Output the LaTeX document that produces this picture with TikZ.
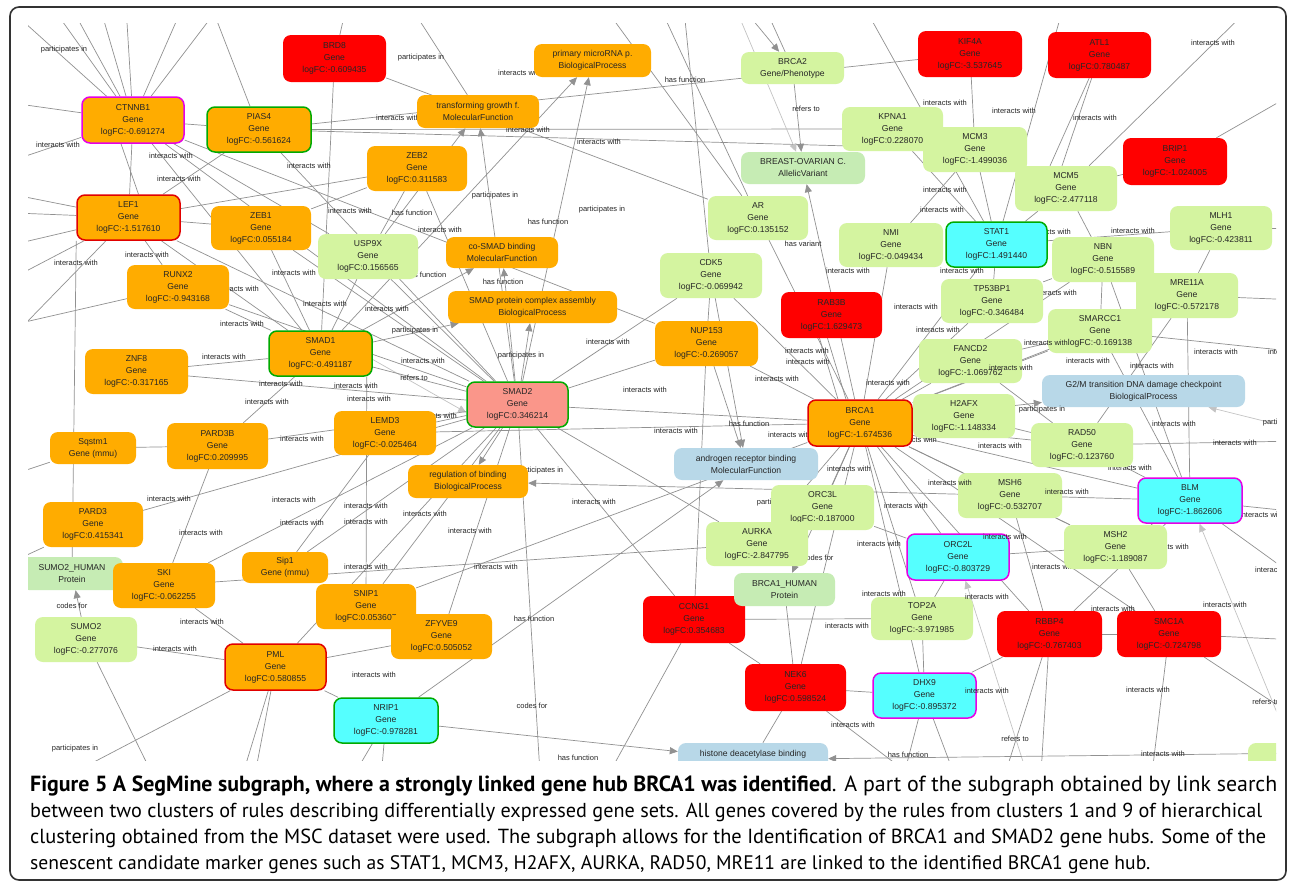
\documentclass[tikz,border=0pt]{standalone}
\usepackage{fontspec}
\usetikzlibrary{arrows.meta}
\newfontfamily\nf{Liberation Sans}
\newfontfamily\cf{PT Sans}
\definecolor{cor}{RGB}{255,172,0}
\definecolor{cred}{RGB}{255,0,0}
\definecolor{clg}{RGB}{212,244,160}
\definecolor{cpg}{RGB}{198,236,180}
\definecolor{cbl}{RGB}{184,216,232}
\definecolor{ccy}{RGB}{85,255,255}
\definecolor{csa}{RGB}{250,150,138}
\definecolor{bmag}{RGB}{230,0,230}
\definecolor{bgrn}{RGB}{0,170,0}
\definecolor{bred}{RGB}{225,0,0}
\definecolor{ecol}{RGB}{145,145,145}
\definecolor{elight}{RGB}{195,195,195}
\pgfdeclarelayer{paper}\pgfdeclarelayer{bg}\pgfdeclarelayer{lb}\pgfdeclarelayer{top}
\pgfsetlayers{paper,bg,lb,main,top}
\tikzset{
  gn/.style={rounded corners=8pt,inner sep=0pt,align=center,text=black!85,
    font=\nf\fontsize{8.6}{12}\selectfont},
  bmagenta/.style={draw=bmag,line width=1.5pt},
  bgreen/.style={draw=bgrn,line width=1.5pt},
  bredd/.style={draw=bred,line width=1.5pt},
  e/.style={draw=ecol,line width=0.7pt},
  ea/.style={e,-{Triangle[length=8pt,width=7pt]}},
  eb/.style={draw=elight,line width=0.7pt,-{Triangle[length=8pt,width=7pt]}},
  el/.style={inner sep=0pt,text=black!85,font=\nf\fontsize{7.5}{9}\selectfont},
}
\newcommand\gnd[7]{\node[gn,#6,minimum width={(#4-#2)*1pt},minimum height={(#5-#3)*1pt}] (#1) at ({(#2+#4)/2},{(#3+#5)/2}) {#7};}
\newcommand\lbl[4]{\node[el] (#1) at (#2,#3) {#4};}
\newcommand\iw{interacts with}
\newcommand\pin{participates in}
\newcommand\hfn{has function}
\newcommand\cnx[2]{\draw[e] (#1) -- (#2);}
\newcommand\cna[2]{\draw[ea] (#1) -- (#2);}
\newcommand\cnl[2]{\draw[eb] (#1) -- (#2);}
\newcommand\gclip{\clip (28,23) rectangle (1276,760);}
\begin{document}
\begin{tikzpicture}[x=1pt,y=-1pt]
\path[use as bounding box] (0,0) rectangle (1290,884);
\begin{pgfonlayer}{paper}
\fill[white] (0,0) rectangle (1290,884);
\end{pgfonlayer}
% ---------------- nodes ----------------
\begin{scope}
\gclip
\gnd{brd8}{283}{35}{386}{82}{fill=cred}{BRD8\\Gene\\logFC:-0.609435}
\gnd{ctnnb1}{82}{97}{184}{143}{fill=cor,bmagenta}{CTNNB1\\Gene\\logFC:-0.691274}
\gnd{pias4}{207}{107}{311}{152}{fill=cor,bgreen}{PIAS4\\Gene\\logFC:-0.561624}
\gnd{lef1}{77}{195}{180}{240}{fill=cor,bredd}{LEF1\\Gene\\logFC:-1.517610}
\gnd{zeb1}{211}{206}{311}{250}{fill=cor}{ZEB1\\Gene\\logFC:0.055184}
\gnd{pmi}{534}{44}{651}{77}{fill=cor}{primary microRNA p.\\BiologicalProcess}
\gnd{tgf}{417}{95}{539}{128}{fill=cor}{transforming growth f.\\MolecularFunction}
\gnd{zeb2}{367}{146}{467}{191}{fill=cor}{ZEB2\\Gene\\logFC:0.311583}
\gnd{usp9x}{318}{234}{418}{279}{fill=clg}{USP9X\\Gene\\logFC:0.156565}
\gnd{cosmad}{446}{237}{558}{268}{fill=cor}{co-SMAD binding\\MolecularFunction}
\gnd{spca}{448}{291}{617}{323}{fill=cor}{SMAD protein complex assembly\\BiologicalProcess}
\gnd{smad1}{269}{331}{372}{376}{fill=cor,bgreen}{SMAD1\\Gene\\logFC:-0.491187}
\gnd{runx2}{127}{265}{229}{309}{fill=cor}{RUNX2\\Gene\\logFC:-0.943168}
\gnd{znf8}{85}{349}{188}{394}{fill=cor}{ZNF8\\Gene\\logFC:-0.317165}
\gnd{smad2}{467}{382}{568}{427}{fill=csa,bgreen}{SMAD2\\Gene\\logFC:0.346214}
\gnd{lemd3}{334}{411}{436}{455}{fill=cor}{LEMD3\\Gene\\logFC:-0.025464}
\gnd{sqstm1}{50}{432}{136}{464}{fill=cor}{Sqstm1\\Gene (mmu)}
\gnd{pard3b}{167}{423}{268}{469}{fill=cor}{PARD3B\\Gene\\logFC:0.209995}
\gnd{regb}{408}{465}{528}{498}{fill=cor}{regulation of binding\\BiologicalProcess}
\gnd{pard3}{43}{502}{143}{547}{fill=cor}{PARD3\\Gene\\logFC:0.415341}
\gnd{sumo2h}{21}{557}{123}{590}{fill=cpg}{SUMO2\_HUMAN\\Protein}
\gnd{ski}{113}{563}{215}{608}{fill=cor}{SKI\\Gene\\logFC:-0.062255}
\gnd{sip1}{242}{552}{328}{583}{fill=cor}{Sip1\\Gene (mmu)}
\gnd{sumo2}{35}{617}{137}{662}{fill=clg}{SUMO2\\Gene\\logFC:-0.277076}
\gnd{pml}{225}{644}{326}{690}{fill=cor,bredd}{PML\\Gene\\logFC:0.580855}
\gnd{snip1}{316}{584}{416}{629}{fill=cor}{SNIP1\\Gene\\logFC:0.053607}
\gnd{zfyve9}{391}{614}{492}{659}{fill=cor}{ZFYVE9\\Gene\\logFC:0.505052}
\gnd{nrip1}{334}{698}{438}{743}{fill=ccy,bgreen}{NRIP1\\Gene\\logFC:-0.978281}
\gnd{brca2}{741}{52}{844}{84}{fill=clg}{BRCA2\\Gene/Phenotype}
\gnd{boc}{741}{152}{865}{184}{fill=cpg}{BREAST-OVARIAN C.\\AllelicVariant}
\gnd{kpna1}{842}{107}{943}{151}{fill=clg}{KPNA1\\Gene\\logFC:0.228070}
\gnd{ar}{708}{196}{808}{240}{fill=clg}{AR\\Gene\\logFC:0.135152}
\gnd{nmi}{839}{223}{943}{267}{fill=clg}{NMI\\Gene\\logFC:-0.049434}
\gnd{cdk5}{660}{253}{762}{298}{fill=clg}{CDK5\\Gene\\logFC:-0.069942}
\gnd{nup153}{655}{321}{758}{366}{fill=cor}{NUP153\\Gene\\logFC:-0.269057}
\gnd{rab3b}{781}{292}{882}{338}{fill=cred}{RAB3B\\Gene\\logFC:1.629473}
\gnd{brca1}{808}{400}{912}{446}{fill=cor,bredd}{BRCA1\\Gene\\logFC:-1.674536}
\gnd{arb}{674}{448}{818}{480}{fill=cbl}{androgen receptor binding\\MolecularFunction}
\gnd{orc3l}{771}{485}{874}{530}{fill=clg}{ORC3L\\Gene\\logFC:-0.187000}
\gnd{aurka}{706}{522}{808}{566}{fill=clg}{AURKA\\Gene\\logFC:-2.847795}
\gnd{ccng1}{643}{596}{745}{643}{fill=cred}{CCNG1\\Gene\\logFC:0.354683}
\gnd{brca1h}{734}{573}{835}{606}{fill=cpg}{BRCA1\_HUMAN\\Protein}
\gnd{nek6}{745}{664}{846}{711}{fill=cred}{NEK6\\Gene\\logFC:0.598524}
\gnd{hdb}{678}{743}{828}{776}{fill=cbl}{histone deacetylase binding\\MolecularFunction}
\gnd{top2a}{871}{597}{973}{640}{fill=clg}{TOP2A\\Gene\\logFC:-3.971985}
\gnd{dhx9}{873}{673}{976}{718}{fill=ccy,bmagenta}{DHX9\\Gene\\logFC:-0.895372}
\gnd{orc2l}{907}{534}{1009}{580}{fill=ccy,bmagenta}{ORC2L\\Gene\\logFC:-0.803729}
\gnd{kif4a}{918}{31}{1022}{77}{fill=cred}{KIF4A\\Gene\\logFC:-3.537645}
\gnd{atl1}{1048}{32}{1151}{78}{fill=cred}{ATL1\\Gene\\logFC:0.780487}
\gnd{mcm3}{923}{127}{1027}{172}{fill=clg}{MCM3\\Gene\\logFC:-1.499036}
\gnd{mcm5}{1015}{166}{1117}{211}{fill=clg}{MCM5\\Gene\\logFC:-2.477118}
\gnd{brip1}{1123}{138}{1227}{185}{fill=cred}{BRIP1\\Gene\\logFC:-1.024005}
\gnd{stat1}{946}{222}{1047}{267}{fill=ccy,bgreen}{STAT1\\Gene\\logFC:1.491440}
\gnd{mlh1}{1170}{206}{1272}{250}{fill=clg}{MLH1\\Gene\\logFC:-0.423811}
\gnd{nbn}{1052}{237}{1154}{282}{fill=clg}{NBN\\Gene\\logFC:-0.515589}
\gnd{tp53bp1}{941}{279}{1043}{323}{fill=clg}{TP53BP1\\Gene\\logFC:-0.346484}
\gnd{mre11a}{1136}{273}{1238}{318}{fill=clg}{MRE11A\\Gene\\logFC:-0.572178}
\gnd{smarcc1}{1048}{309}{1152}{353}{fill=clg}{SMARCC1\\Gene\\logFC:-0.169138}
\gnd{fancd2}{919}{339}{1022}{383}{fill=clg}{FANCD2\\Gene\\logFC:-1.069762}
\gnd{g2m}{1042}{375}{1245}{407}{fill=cbl}{G2/M transition DNA damage checkpoint\\BiologicalProcess}
\gnd{h2afx}{913}{394}{1015}{438}{fill=clg}{H2AFX\\Gene\\logFC:-1.148334}
\gnd{rad50}{1031}{423}{1133}{467}{fill=clg}{RAD50\\Gene\\logFC:-0.123760}
\gnd{msh6}{958}{473}{1062}{518}{fill=clg}{MSH6\\Gene\\logFC:-0.532707}
\gnd{blm}{1138}{478}{1242}{523}{fill=ccy,bmagenta}{BLM\\Gene\\logFC:-1.862606}
\gnd{msh2}{1064}{525}{1167}{569}{fill=clg}{MSH2\\Gene\\logFC:-1.189087}
\gnd{rbbp4}{997}{611}{1102}{657}{fill=cred}{RBBP4\\Gene\\logFC:-0.767403}
\gnd{smc1a}{1117}{611}{1221}{657}{fill=cred}{SMC1A\\Gene\\logFC:-0.724798}
\gnd{pr1}{1248}{743}{1350}{790}{fill=clg}{}
\end{scope}
% ---------------- off-canvas ends ----------------
\foreach \n/\x/\y in {t1/40/-10,t2/62/-10,t3/95/-10,t4/125/-10,t5/190/-10,t6/232/-10,
  c0/5/5,w1/-10/100,w2/-10/168,w3/-10/190,w4/-10/212,w5/-10/250,w6/-10/290,w7/-10/360,
  t8/205/-10,t9/350/-10,t10/400/-10,w8/-10/330,w9/-10/482,w10/-10/572,
  b1/160/790,b2/50/785,b3/238/790,b4/252/790,b5/345/790,b6/380/790,b7/541/790,
  t11/728/-10,t12/757/-10,t13/682/-10,t14/652/-10,t15/592/-10,t16/855/-10,t17/1068/-10,
  t18/1268/-10,e1/1300/90,e2/1300/228,e3/1300/300,e4/1300/352,e5/1300/430,e6/1300/441,
  e7/1300/512,e8/1300/580,b8/1032/790,b9/900/790,b10/960/790,b11/930/790,b12/600/790,
  b13/1000/790,b14/1040/790,e9/1300/640,b15/1150/790,e10/1300/720,e11/1400/752}
  {\coordinate (\n) at (\x,\y);}
% ---------------- connectors ----------------
\begin{pgfonlayer}{bg}
\begin{scope}
\gclip
\cnx{ctnnb1}{t1}\cnx{ctnnb1}{t2}\cnx{ctnnb1}{t3}\cnx{ctnnb1}{t4}\cnx{ctnnb1}{t5}\cnx{ctnnb1}{t6}
\cnx{ctnnb1}{c0}\cnx{ctnnb1}{w1}\cnx{ctnnb1}{w2}
\cnx{ctnnb1}{lef1}\draw[e] ([xshift=-12pt]ctnnb1.south) -- ([xshift=10pt]lef1.north);
\cnx{ctnnb1}{pias4}\cnx{ctnnb1}{smad2}\cnx{ctnnb1}{smad1}\cnx{ctnnb1}{usp9x}\cnx{ctnnb1}{nup153}
\cnx{lef1}{w3}\cnx{lef1}{w4}\cnx{lef1}{w5}\cnx{lef1}{w6}\cnx{lef1}{w7}
\cnx{pias4}{lef1}\cnx{pias4}{smad2}\cnx{pias4}{t8}\cnx{pias4}{kpna1}\cnx{pias4}{kif4a}\cnx{pias4}{mcm3}
\cnx{lef1}{zeb2}\cnx{lef1}{smad2}\cnx{lef1}{runx2}\cnx{lef1}{smad1}
\cnx{brd8}{smad1}\cnx{brd8}{t9}\cnx{brd8}{ar}
\cnx{tgf}{t10}
\cnx{zeb1}{zeb2}\cnx{zeb1}{smad2}\cnx{zeb1}{lef1}\cnx{zeb1}{smad1}
\cna{usp9x}{tgf}\cnx{usp9x}{smad2}\cnx{usp9x}{smad1}
\cnx{zeb2}{smad2}\cnx{zeb2}{usp9x}
\cna{smad1}{pmi}\cna{smad2}{pmi}\cna{smad2}{tgf}\cna{smad2}{cosmad}\cna{smad2}{spca}
\cna{smad1}{cosmad}\cna{smad1}{spca}
\draw[eb] ([yshift=-6pt]smad1.east) -- ([yshift=-8pt]smad2.west);
\cnx{smad1}{smad2}
\cnx{runx2}{smad2}\cnx{runx2}{smad1}\cnx{runx2}{w8}
\cnx{znf8}{smad1}\cnx{znf8}{smad2}
\cnx{sqstm1}{pard3b}\cnx{sqstm1}{w9}
\cnx{sumo2h}{lef1.south west}
\cnx{pard3b}{smad1}\cnx{pard3b}{smad2}\cnx{pard3b}{ski}
\cnx{pard3}{smad2}\cnx{pard3}{w10}
\cna{sumo2}{sumo2h}
\cnx{ski}{smad2}\cnx{ski}{pml}
\cnx{sumo2}{pml}\cnx{sumo2}{b1}
\cnx{pml}{b2}\cnx{pml}{b3}\cnx{pml}{b4}\cnx{pml}{nrip1}\cnx{pml}{zfyve9}\cnx{pml}{smad2}
\cnx{sip1}{smad2}\cnx{lemd3}{sip1}\cnx{lemd3}{smad2}
\draw[e] (snip1) -- ([xshift=-6pt]smad1.south east);
\cnx{snip1}{smad2}\cnx{snip1}{brca1}
\cnx{zfyve9}{smad2}
\cna{nrip1}{arb}\cna{nrip1}{hdb}\cnx{nrip1}{b5}\cnx{nrip1}{b6}
\cnx{smad2}{b7}\cnx{smad2}{nup153}\cnx{smad2}{brca1}\cnx{smad2}{ccng1}\cnx{smad2}{cdk5}
\cna{smad2}{regb}\cna{msh6}{regb}
\cnx{lemd3}{brca1}\cnx{aurka}{ski}
\cna{t11}{brca2}\cnl{t11}{boc}\cnx{t12}{brca2}
\cna{brca2}{boc}\cna{brca1}{boc}
\cnx{cdk5}{t13}\cnx{ar}{t14}\cnx{ar}{t15}
\cnx{cdk5}{nup153}\cnx{cdk5}{brca1}\cna{cdk5}{arb}\cna{nup153}{arb}
\cnx{nup153}{brca1}\cnx{nup153}{ccng1}
\cnx{ar}{brca1}\cnx{nmi}{brca1}\cnx{nmi}{mcm3}\cnx{stat1}{kpna1}
\draw[e] ([xshift=-12pt]rab3b.south) -- ([xshift=-22pt]brca1.north);
\draw[e] ([xshift=-4pt]rab3b.south) -- ([xshift=-14pt]brca1.north);
\cnx{stat1}{brca1}\cnx{stat1}{mcm3}\cnx{stat1}{mcm5}\cnx{stat1}{t16}\cnx{stat1}{t17}\cnx{stat1}{mlh1}
\cnx{mcm3}{kif4a}
\draw[e] ([xshift=-16pt]mcm5.north) -- (atl1);
\draw[e] ([xshift=-4pt]mcm5.north) -- (atl1);
\cnx{mcm5}{t18}\cnx{brip1}{mcm5}\cnx{brip1}{e1}
\cnx{mlh1}{e2}\cnx{mlh1}{mre11a}
\cnx{nbn}{mcm5}\cnx{nbn}{brca1}\cnx{nbn}{tp53bp1}\cnx{nbn}{smarcc1}\cnx{nbn}{mre11a}
\cnx{tp53bp1}{brca1}\cnx{tp53bp1}{stat1}
\cnx{mre11a}{brca1}\cnx{mre11a}{blm}\cnx{mre11a}{e3}\cnx{mre11a}{rad50}
\cnx{smarcc1}{brca1}\cnx{smarcc1}{blm}\cnx{smarcc1}{e4}
\cnx{fancd2}{brca1}\cnx{fancd2}{smarcc1}\cnx{fancd2}{rad50}
\cnx{h2afx}{brca1}\cnx{h2afx}{rad50}
\cna{brca1}{g2m}\cnl{e5}{g2m}
\cnx{rad50}{brca1}\cnx{rad50}{blm}\cnx{rad50}{e6}
\cnx{msh6}{brca1}\cnx{msh6}{blm}\cnx{msh6}{msh2}\cnx{msh6}{rbbp4}
\cnx{blm}{brca1}\cnx{blm}{nbn}\cnx{blm}{e7}\cnx{blm}{e8}\cnl{pr1}{blm}
\cnx{msh2}{brca1}\cnx{msh2}{blm}\cnx{msh2}{smc1a}\cnx{msh2}{orc2l}
\cnx{orc2l}{brca1}\cnx{orc2l}{orc3l}\cnx{orc2l}{top2a}\cnl{b8}{orc2l}
\cnx{top2a}{brca1}\cnx{top2a}{ccng1}\cnx{top2a}{dhx9}
\cnx{dhx9}{nek6}\cnx{dhx9}{brca1}\cnx{dhx9}{b9}\cnx{dhx9}{b10}\cnx{dhx9}{rbbp4}
\cnx{nek6}{ccng1}\cnx{nek6}{brca1h}\cnx{nek6}{brca1}\cnx{nek6}{hdb}\cnx{nek6}{b11}
\cnx{ccng1}{b12}
\cna{brca1}{brca1h}
\cnx{aurka}{brca1}\cnx{aurka}{smad2}
\cnx{orc3l}{brca1}\cnx{orc3l}{aurka}
\cnx{rbbp4}{brca1}\cnx{rbbp4}{smc1a}\cnx{rbbp4}{b13}\cnx{rbbp4}{b14}\cnx{rbbp4}{blm}
\cnx{smc1a}{brca1}\cnx{smc1a}{e9}\cnx{smc1a}{b15}\cnx{smc1a}{e10}
\cna{e11}{hdb}
\end{scope}
\end{pgfonlayer}
% ---------------- connector labels ----------------
\begin{pgfonlayer}{lb}
\begin{scope}
\gclip
\lbl{l1}{64}{50}{\pin}\lbl{l2}{421}{58}{\pin}\lbl{l3}{495}{196}{\pin}\lbl{l4}{602}{210}{\pin}
\lbl{l5}{415}{331}{\pin}\lbl{l6}{521}{356}{\pin}\lbl{l7}{540}{471}{\pin}\lbl{l8}{780}{503}{\pin}
\lbl{l9}{75}{749}{\pin}\lbl{l10}{1286}{423}{\pin}
\lbl{l11}{58}{145}{\iw}\lbl{l12}{171}{156}{\iw}\lbl{l13}{179}{179}{\iw}\lbl{l14}{309}{166}{\iw}
\lbl{l15}{147}{255}{\iw}\lbl{l16}{350}{211}{\iw}\lbl{l17}{294}{273}{\iw}\lbl{l18}{237}{289}{\iw}
\lbl{l19}{325}{304}{\iw}\lbl{l20}{387}{309}{\iw}\lbl{l21}{242}{324}{\iw}\lbl{l22}{76}{263}{\iw}
\lbl{l23}{224}{357}{\iw}\lbl{l24}{423}{361}{\iw}\lbl{l25}{281}{384}{\iw}\lbl{l26}{356}{386}{\iw}
\lbl{l27}{369}{399}{\iw}\lbl{l28}{267}{402}{\iw}\lbl{l29}{435}{416}{\iw}\lbl{l30}{302}{439}{\iw}
\lbl{l31}{169}{499}{\iw}\lbl{l32}{294}{500}{\iw}\lbl{l33}{302}{523}{\iw}\lbl{l34}{201}{533}{\iw}
\lbl{l35}{366}{506}{\iw}\lbl{l36}{425}{514}{\iw}\lbl{l37}{366}{522}{\iw}\lbl{l38}{470}{531}{\iw}
\lbl{l39}{366}{567}{\iw}\lbl{l40}{496}{567}{\iw}\lbl{l41}{594}{502}{\iw}\lbl{l42}{202}{622}{\iw}
\lbl{l43}{175}{649}{\iw}\lbl{l44}{374}{675}{\iw}\lbl{l45}{520}{73}{\iw}\lbl{l46}{398}{118}{\iw}
\lbl{l47}{528}{130}{\iw}\lbl{l48}{599}{142}{\iw}\lbl{l49}{440}{230}{\iw}\lbl{l50}{608}{342}{\iw}
\lbl{l51}{645}{390}{\iw}\lbl{l52}{676}{431}{\iw}\lbl{l53}{777}{379}{\iw}\lbl{l54}{807}{351}{\iw}
\lbl{l55}{808}{362}{\iw}\lbl{l56}{848}{271}{\iw}\lbl{l57}{962}{271}{\iw}\lbl{l58}{916}{307}{\iw}
\lbl{l59}{938}{330}{\iw}\lbl{l60}{888}{383}{\iw}\lbl{l61}{790}{435}{\iw}\lbl{l62}{915}{440}{\iw}
\lbl{l63}{849}{469}{\iw}\lbl{l64}{906}{506}{\iw}\lbl{l65}{879}{544}{\iw}\lbl{l66}{884}{594}{\iw}
\lbl{l67}{847}{626}{\iw}\lbl{l68}{853}{725}{\iw}\lbl{l69}{945}{103}{\iw}\lbl{l70}{945}{190}{\iw}
\lbl{l71}{942}{210}{\iw}\lbl{l72}{1014}{111}{\iw}\lbl{l73}{1095}{118}{\iw}\lbl{l74}{1213}{43}{\iw}
\lbl{l75}{1049}{232}{\iw}\lbl{l76}{1133}{231}{\iw}\lbl{l77}{1055}{293}{\iw}\lbl{l78}{1088}{361}{\iw}
\lbl{l79}{1152}{366}{\iw}\lbl{l80}{1216}{352}{\iw}\lbl{l81}{1290}{352}{\iw}\lbl{l82}{1174}{424}{\iw}
\lbl{l83}{1000}{446}{\iw}\lbl{l84}{1235}{443}{\iw}\lbl{l85}{1130}{468}{\iw}\lbl{l86}{1167}{547}{\iw}
\lbl{l87}{1054}{567}{\iw}\lbl{l88}{1262}{515}{\iw}\lbl{l89}{1277}{570}{\iw}\lbl{l90}{1113}{609}{\iw}
\lbl{l91}{1225}{605}{\iw}\lbl{l92}{1148}{690}{\iw}\lbl{l93}{1163}{754}{\iw}
\lbl{l94}{426}{275}{\hfn}\lbl{l95}{412}{213}{\hfn}\lbl{l96}{548}{222}{\hfn}\lbl{l97}{503}{282}{\hfn}
\lbl{l98}{685}{80}{\hfn}\lbl{l99}{749}{424}{\hfn}\lbl{l100}{534}{619}{\hfn}\lbl{l101}{578}{758}{\hfn}
\lbl{l102}{908}{755}{\hfn}
\lbl{l103}{414}{378}{refers to}\lbl{l104}{806}{109}{refers to}\lbl{l105}{1015}{739}{refers to}
\lbl{l106}{1266}{702}{refers to}
\lbl{l107}{803}{244}{has variant}
\lbl{l108}{72}{606}{codes for}\lbl{l109}{532}{706}{codes for}\lbl{l110}{818}{558}{codes for}
\end{scope}
\end{pgfonlayer}
\begin{pgfonlayer}{top}
\begin{scope}
\gclip
\lbl{l111}{1042}{410}{\pin}\lbl{l112}{1046}{343}{\iw}\lbl{l113}{1011}{368}{\iw}
\lbl{l114}{950}{483}{\iw}\lbl{l115}{1067}{492}{\iw}\lbl{l116}{1005}{537}{\iw}
\lbl{l117}{987}{597}{\iw}\lbl{l118}{987}{691}{\iw}
\end{scope}
\end{pgfonlayer}
% ---------------- frame and caption ----------------
\draw[line width=1.6pt,black!80,rounded corners=9pt] (10,7) rectangle (1286,880);
\node[anchor=base west,inner sep=0pt] (cap1) at (30,791)
  {\resizebox{1247pt}{!}{\cf\fontsize{18}{22}\selectfont\textbf{Figure 5 A SegMine subgraph, where a strongly linked gene hub BRCA1 was identified}. A part of the subgraph obtained by link search}};
\node[anchor=base west,inner sep=0pt] (cap2) at (30,817)
  {\resizebox{1232pt}{!}{\cf\fontsize{18}{22}\selectfont between two clusters of rules describing differentially expressed gene sets. All genes covered by the rules from clusters 1 and 9 of hierarchical}};
\node[anchor=base west,inner sep=0pt] (cap3) at (30,843)
  {\resizebox{1236pt}{!}{\cf\fontsize{18}{22}\selectfont clustering obtained from the MSC dataset were used. The subgraph allows for the Identification of BRCA1 and SMAD2 gene hubs. Some of the}};
\node[anchor=base west,inner sep=0pt] (cap4) at (30,869)
  {\resizebox{1120pt}{!}{\cf\fontsize{18}{22}\selectfont senescent candidate marker genes such as STAT1, MCM3, H2AFX, AURKA, RAD50, MRE11 are linked to the identified BRCA1 gene hub.}};
\end{tikzpicture}
\end{document}
